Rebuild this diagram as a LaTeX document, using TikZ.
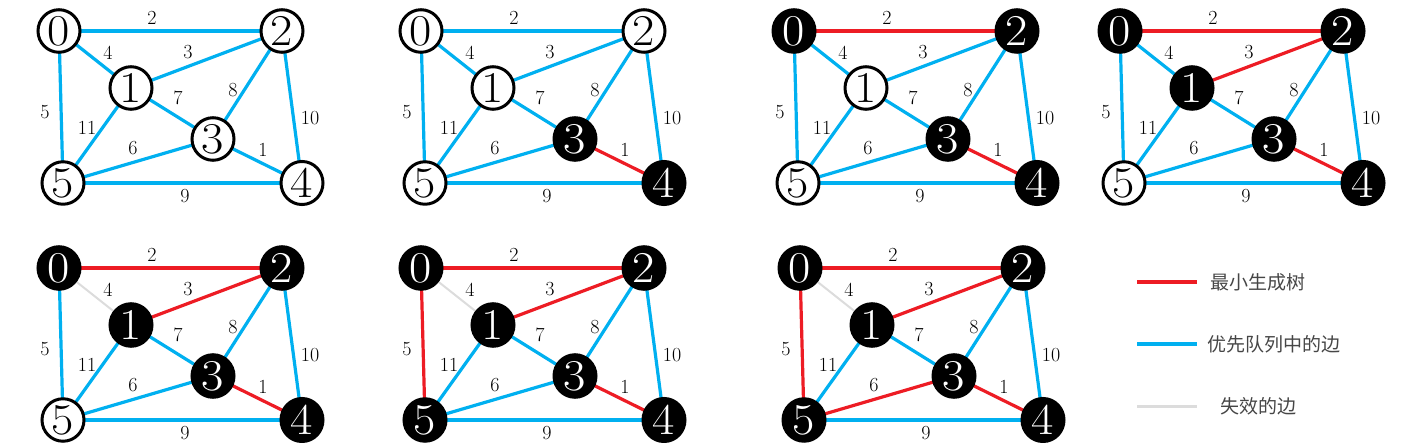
\documentclass[tikz,border=0pt]{standalone}
\usepackage{fontspec}
\newfontfamily\cjk{Noto Sans CJK SC}
\usetikzlibrary{shapes.geometric,backgrounds}
\definecolor{qblue}{RGB}{0,176,240}
\definecolor{qred}{RGB}{237,28,36}
\definecolor{qgray}{RGB}{220,220,220}
\definecolor{qtext}{RGB}{70,70,70}
\tikzset{
  vw/.style={ellipse, draw=black, line width=3pt, fill=white, text=black,
    minimum width=42pt, minimum height=37pt, inner sep=0pt,
    font=\fontsize{44}{44}\selectfont},
  vb/.style={vw, fill=black, text=white},
  eb/.style={line width=3.2pt, draw=qblue},
  er/.style={line width=3.2pt, draw=qred},
  eg/.style={line width=2pt, draw=qgray},
  wl/.style={font=\fontsize{20}{20}\selectfont, inner sep=0pt, text=black},
  lt/.style={font=\cjk\fontsize{19}{19}\selectfont, inner sep=0pt, text=qtext, anchor=west},
  n0/.style=vw, n1/.style=vw, n2/.style=vw, n3/.style=vw, n4/.style=vw, n5/.style=vw,
  e01/.style=eb, e02/.style=eb, e05/.style=eb, e12/.style=eb, e13/.style=eb,
  e15/.style=eb, e23/.style=eb, e24/.style=eb, e34/.style=eb, e35/.style=eb, e45/.style=eb
}
\newcommand\dg[1]{\raisebox{1pt}{\scalebox{1.1}[1]{#1}}}
\newcommand\mygraph[3]{%
  \begin{scope}[shift={(#2,#3)}]
    \node[n0] (#1n0) at (59,31) {\dg{0}};
    \node[n1] (#1n1) at (131,88) {\dg{1}};
    \node[n2] (#1n2) at (282,31) {\dg{2}};
    \node[n3] (#1n3) at (213,139) {\dg{3}};
    \node[n4] (#1n4) at (302,183) {\dg{4}};
    \node[n5] (#1n5) at (63,183) {\dg{5}};
    \node[wl] (#1l02) at (152,18) {2};
    \node[wl] (#1l01) at (108,53) {4};
    \node[wl] (#1l12) at (188,52) {3};
    \node[wl] (#1l05) at (45,112) {5};
    \node[wl] (#1l13) at (178,98) {7};
    \node[wl] (#1l23) at (233,90) {8};
    \node[wl] (#1l24) at (310,118) {10};
    \node[wl] (#1l15) at (87,128) {11};
    \node[wl] (#1l35) at (133,148) {6};
    \node[wl] (#1l34) at (263,150) {1};
    \node[wl] (#1l45) at (185,196) {9};
  \end{scope}
  \begin{pgfonlayer}{background}
    \draw[e01] (#1n0.center) -- (#1n1.center);
    \draw[e02] (#1n0.center) -- (#1n2.center);
    \draw[e05] (#1n0.center) -- (#1n5.center);
    \draw[e12] (#1n1.center) -- (#1n2.center);
    \draw[e13] (#1n1.center) -- (#1n3.center);
    \draw[e15] (#1n1.center) -- (#1n5.center);
    \draw[e23] (#1n2.center) -- (#1n3.center);
    \draw[e24] (#1n2.center) -- (#1n4.center);
    \draw[e34] (#1n3.center) -- (#1n4.center);
    \draw[e35] (#1n3.center) -- (#1n5.center);
    \draw[e45] (#1n4.center) -- (#1n5.center);
  \end{pgfonlayer}
}
\begin{document}
\begin{tikzpicture}[x=1pt,y=-1pt]
\useasboundingbox (0,0) rectangle (1407,443);
% graph 1
\begin{scope}
  \mygraph{ga}{0}{0}
\end{scope}
% graph 2
\begin{scope}[n3/.style=vb, n4/.style=vb, e34/.style=er]
  \mygraph{gb}{362}{0}
\end{scope}
% graph 3
\begin{scope}[n0/.style=vb, n2/.style=vb, n3/.style=vb, n4/.style=vb,
  e34/.style=er, e02/.style=er]
  \mygraph{gc}{735}{0}
\end{scope}
% graph 4
\begin{scope}[n0/.style=vb, n1/.style=vb, n2/.style=vb, n3/.style=vb, n4/.style=vb,
  e34/.style=er, e02/.style=er, e12/.style=er]
  \mygraph{gd}{1061}{0}
\end{scope}
% graph 5
\begin{scope}[n0/.style=vb, n1/.style=vb, n2/.style=vb, n3/.style=vb, n4/.style=vb,
  e34/.style=er, e02/.style=er, e12/.style=er, e01/.style=eg]
  \mygraph{ge}{0}{237}
\end{scope}
% graph 6
\begin{scope}[n0/.style=vb, n1/.style=vb, n2/.style=vb, n3/.style=vb, n4/.style=vb, n5/.style=vb,
  e34/.style=er, e02/.style=er, e12/.style=er, e05/.style=er, e01/.style=eg]
  \mygraph{gf}{362}{237}
\end{scope}
% graph 7
\begin{scope}[n0/.style=vb, n1/.style=vb, n2/.style=vb, n3/.style=vb, n4/.style=vb, n5/.style=vb,
  e34/.style=er, e02/.style=er, e12/.style=er, e05/.style=er, e35/.style=er, e01/.style=eg]
  \mygraph{gg}{741}{237}
\end{scope}
% legend
\coordinate (lra) at (1137,282);
\coordinate (lrb) at (1197,282);
\coordinate (lba) at (1137,344);
\coordinate (lbb) at (1197,344);
\coordinate (lga) at (1137,406);
\coordinate (lgb) at (1197,406);
\draw[er] (lra) -- (lrb);
\draw[eb] (lba) -- (lbb);
\draw[line width=3pt, draw=qgray] (lga) -- (lgb);
\node[lt] (lt1) at (1210,282) {最小生成树};
\node[lt] (lt2) at (1207,344) {优先队列中的边};
\node[lt] (lt3) at (1220,406) {失效的边};
\end{tikzpicture}
\end{document}
